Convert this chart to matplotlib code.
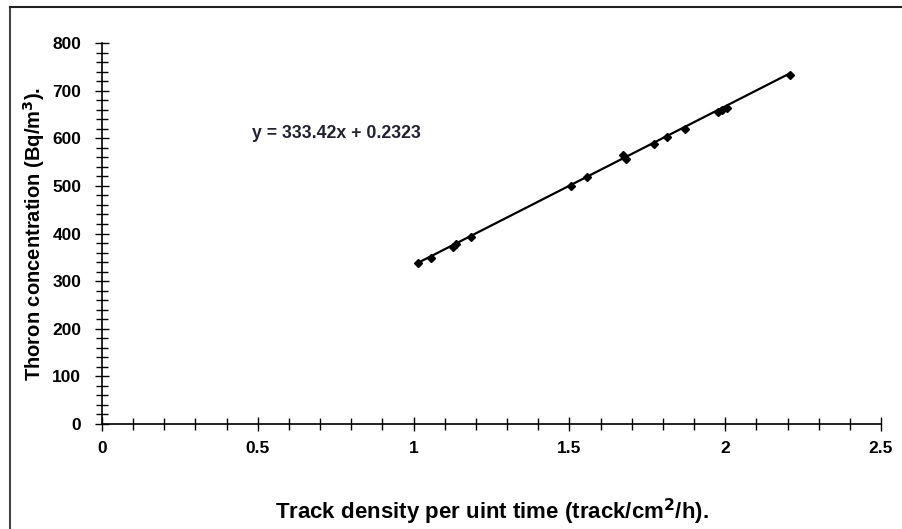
import matplotlib.pyplot as plt
from matplotlib.lines import Line2D
from matplotlib.ticker import MultipleLocator
import numpy as np

plt.rcParams['font.family'] = ['Liberation Sans', 'DejaVu Sans']
plt.rcParams['font.weight'] = 'bold'

# data
track_density = [1.015, 1.055, 1.125, 1.136, 1.184, 1.505, 1.557, 1.672, 1.682,
                 1.770, 1.814, 1.871, 1.978, 1.990, 2.005, 2.208]
thoron_conc = [339, 348, 372, 377, 392, 500, 518, 565, 556,
               587, 603, 620, 656, 660, 663, 733]
slope = 333.42
intercept = 0.2323

fig = plt.figure(figsize=(9.03, 5.29), dpi=100)
ax = fig.add_axes([102 / 903, 1 - 424 / 529, (881 - 102) / 903, (424 - 43) / 529])

x_fit = np.array([min(track_density), max(track_density)])
ax.plot(x_fit, slope * x_fit + intercept, color='black', linewidth=1.6, zorder=2)
ax.plot(track_density, thoron_conc, linestyle='none', marker='D', markersize=4.5,
        color='black', zorder=3)

ax.text(0.48, 611, f"y = {slope}x + {intercept}", fontsize=12.8, va='center', ha='left',
        color='#222233')

ax.set_xlim(0, 2.5)
ax.set_ylim(0, 800)
ax.xaxis.set_major_locator(MultipleLocator(0.5))
ax.xaxis.set_minor_locator(MultipleLocator(0.1))
ax.yaxis.set_major_locator(MultipleLocator(100))
ax.yaxis.set_minor_locator(MultipleLocator(20))
ax.xaxis.set_ticks([0, 0.5, 1, 1.5, 2, 2.5])
ax.set_xticklabels(['0', '0.5', '1', '1.5', '2', '2.5'])
ax.tick_params(which='both', direction='inout', width=1, labelsize=12.5)
ax.tick_params(which='major', length=10)
ax.tick_params(which='minor', length=8)
ax.tick_params(axis='x', pad=7)
ax.tick_params(axis='y', pad=10)

for side in ['top', 'right']:
    ax.spines[side].set_visible(False)
for side in ['left', 'bottom']:
    ax.spines[side].set_linewidth(1.2)

ax.set_xlabel("Track density per uint time (track/cm$^\\mathbf{2}$/h).", fontsize=16,
              fontweight='bold')
ax.xaxis.set_label_coords(0.5, -(497 - 424) / 381)
ax.set_ylabel("Thoron concentration (Bq/m$^\\mathbf{3}$).", fontsize=14.5,
              fontweight='bold')
ax.yaxis.set_label_coords(-(102 - 47) / 779, 0.5)

# figure border (left and top only)
fig.add_artist(Line2D([10 / 903, 10 / 903], [0, 1 - 7 / 529], color='#444444',
                      linewidth=1.5, transform=fig.transFigure))
fig.add_artist(Line2D([10 / 903, 1], [1 - 7 / 529, 1 - 7 / 529], color='#222222',
                      linewidth=1.5, transform=fig.transFigure))

fig.savefig('out.png', dpi=100)
